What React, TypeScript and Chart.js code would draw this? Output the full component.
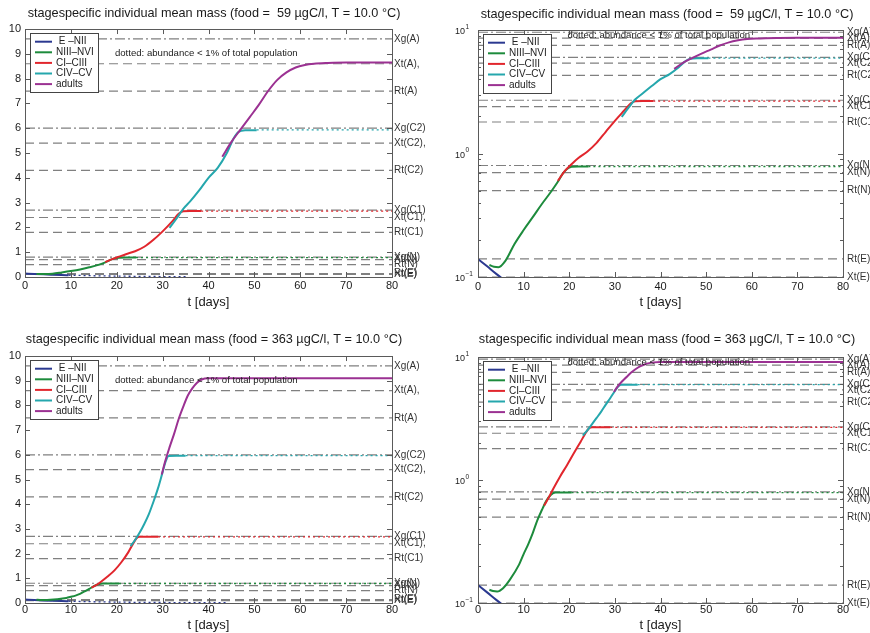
import React, { useEffect, useRef } from 'react';
import { Chart, registerables } from 'chart.js';

Chart.register(...registerables);

const FONT = '"Liberation Sans", Arial, Helvetica, sans-serif';

const TITLE_59 = 'stagespecific individual mean mass (food =  59 \u00b5gC/l, T = 10.0 \u00b0C)';
const TITLE_363 = 'stagespecific individual mean mass (food = 363 \u00b5gC/l, T = 10.0 \u00b0C)';
const X_TITLE = 't [days]';
const NOTE = 'dotted: abundance < 1% of total population';
const NOTE_T = 19.6;
const NOTE_M = 9;

const STAGES = [' E \u2013NII', 'NIII\u2013NVI', 'CI\u2013CIII', 'CIV\u2013CV', 'adults'];
const STAGE_COLORS = ['#2b3990', '#1d8b3c', '#e1262d', '#25a7ad', '#9b3192'];

const X_TICKS = [0, 10, 20, 30, 40, 50, 60, 70, 80];
const Y_TICKS = [0, 1, 2, 3, 4, 5, 6, 7, 8, 9, 10];
const LOG_TICKS = [0.1, 1, 10];
const LOG_TICK_BASE = ['10', '10', '10'];
const LOG_TICK_EXP = ['\u22121', '0', '1'];
const LOG_MINOR = [0.2, 0.3, 0.4, 0.5, 0.6, 0.7, 0.8, 0.9, 2, 3, 4, 5, 6, 7, 8, 9];

// reference masses (right-hand labels)
const REF_LABELS = ['Xg(A)', 'Xt(A),', 'Rt(A)', 'Xg(C2)', 'Xt(C2),', 'Rt(C2)', 'Xg(C1)', 'Xt(C1),', 'Rt(C1)', 'Xg(N)', 'Xt(N)', 'Rt(N)', 'Rt(E)', 'Xt(E)'];
const REF_MASS = [9.6, 8.6, 7.5, 6.0, 5.4, 4.3, 2.7, 2.4, 1.8, 0.8, 0.7, 0.5, 0.14, 0.1];

// ----- food = 59 µgC/l -----
const T59_ENII = [0, 2, 4, 6, 8, 9.5];
const M59_ENII = [0.14, 0.122, 0.106, 0.093, 0.081, 0.073];
const T59_ENII_LOW = [9.5, 15, 20, 25, 30, 35];
const M59_ENII_LOW = [0.073, 0.05, 0.036, 0.026, 0.018, 0.012];

const T59_NIII = [2.5, 3.5, 4.5, 6, 8, 10, 12, 14, 16, 17.5, 18.5, 19.5, 20.5, 22, 24.2];
const M59_NIII = [0.125, 0.121, 0.12, 0.135, 0.185, 0.24, 0.305, 0.39, 0.49, 0.59, 0.68, 0.75, 0.78, 0.785, 0.785];
const T59_NIII_LOW = [24.2, 80];
const M59_NIII_LOW = [0.785, 0.785];

const T59_CI = [17.5, 19, 20.5, 22, 24, 26, 28, 30, 32, 33.5, 34.5, 36, 38.4];
const M59_CI = [0.6, 0.72, 0.82, 0.92, 1.04, 1.22, 1.5, 1.84, 2.22, 2.55, 2.65, 2.66, 2.66];
const T59_CI_LOW = [38.4, 80];
const M59_CI_LOW = [2.66, 2.66];

const T59_CIV = [31.5, 33, 34.5, 36, 38, 40, 42, 44, 45.5, 46.5, 48, 50.5];
const M59_CIV = [1.98, 2.35, 2.75, 3.05, 3.5, 4.0, 4.4, 5.0, 5.6, 5.85, 5.92, 5.92];
const T59_CIV_LOW = [50.5, 80];
const M59_CIV_LOW = [5.93, 5.93];

const T59_AD = [43, 45, 47, 49, 51, 53, 55, 57, 59, 61, 63, 66, 70, 75, 80];
const M59_AD = [4.85, 5.45, 5.95, 6.45, 6.95, 7.5, 7.95, 8.25, 8.45, 8.55, 8.6, 8.63, 8.65, 8.65, 8.65];

// ----- food = 363 µgC/l -----
const T363_ENII = [0, 2, 4, 6, 8, 9.5];
const M363_ENII = [0.14, 0.122, 0.106, 0.093, 0.081, 0.073];
const T363_ENII_LOW = [9.5, 15, 20, 30, 40, 44];
const M363_ENII_LOW = [0.073, 0.05, 0.036, 0.02, 0.012, 0.01];

const T363_NIII = [2.5, 3.3, 4.2, 5.5, 7, 9, 10, 11, 12, 13, 14, 15, 16, 17, 20.5];
const M363_NIII = [0.128, 0.125, 0.124, 0.132, 0.155, 0.205, 0.25, 0.3, 0.37, 0.47, 0.57, 0.68, 0.76, 0.79, 0.79];
const T363_NIII_LOW = [20.5, 80];
const M363_NIII_LOW = [0.79, 0.79];

const T363_CI = [14.5, 15.5, 16.5, 18, 19.5, 21, 22.5, 23.5, 24.3, 25, 29];
const M363_CI = [0.62, 0.72, 0.85, 1.07, 1.32, 1.65, 2.05, 2.38, 2.62, 2.68, 2.68];
const T363_CI_LOW = [29, 80];
const M363_CI_LOW = [2.68, 2.68];

const T363_CIV = [23, 24, 25, 26, 27, 28, 29, 30, 30.7, 31.3, 33, 35];
const M363_CIV = [2.3, 2.55, 2.85, 3.2, 3.6, 4.1, 4.65, 5.3, 5.75, 5.95, 5.96, 5.96];
const T363_CIV_LOW = [35, 80];
const M363_CIV_LOW = [5.97, 5.97];

const T363_AD = [29.8, 30.5, 31.5, 32.5, 33.5, 34.5, 35.5, 36.5, 37.5, 38.5, 40, 45, 80];
const M363_AD = [5.2, 5.7, 6.3, 6.85, 7.45, 7.95, 8.4, 8.7, 8.92, 9.05, 9.1, 9.1, 9.1];

const SERIES_59 = [
  { t: T59_ENII, m: M59_ENII, tl: T59_ENII_LOW, ml: M59_ENII_LOW },
  { t: T59_NIII, m: M59_NIII, tl: T59_NIII_LOW, ml: M59_NIII_LOW },
  { t: T59_CI, m: M59_CI, tl: T59_CI_LOW, ml: M59_CI_LOW },
  { t: T59_CIV, m: M59_CIV, tl: T59_CIV_LOW, ml: M59_CIV_LOW },
  { t: T59_AD, m: M59_AD, tl: [], ml: [] },
];
const SERIES_363 = [
  { t: T363_ENII, m: M363_ENII, tl: T363_ENII_LOW, ml: M363_ENII_LOW },
  { t: T363_NIII, m: M363_NIII, tl: T363_NIII_LOW, ml: M363_NIII_LOW },
  { t: T363_CI, m: M363_CI, tl: T363_CI_LOW, ml: M363_CI_LOW },
  { t: T363_CIV, m: M363_CIV, tl: T363_CIV_LOW, ml: M363_CIV_LOW },
  { t: T363_AD, m: M363_AD, tl: [], ml: [] },
];

const pts = (t: number[], m: number[]) => t.map((v, i) => ({ x: v, y: m[i] }));

const decor = {
  id: 'decor',
  afterDatasetsDraw(chart: any, _args: any, opts: any) {
    const { ctx, chartArea: a } = chart;
    const xs = chart.scales.x;
    const ys = chart.scales.y;
    ctx.save();
    ctx.setLineDash([]);
    const seg = (x1: number, y1: number, x2: number, y2: number) => {
      ctx.beginPath();
      ctx.moveTo(x1, y1);
      ctx.lineTo(x2, y2);
      ctx.stroke();
    };
    // frame
    ctx.strokeStyle = '#5a5a5a';
    ctx.lineWidth = 1;
    ctx.strokeRect(Math.round(a.left) + 0.5, Math.round(a.top) + 0.5, Math.round(a.right - a.left), Math.round(a.bottom - a.top));
    // inward ticks
    X_TICKS.forEach((v) => {
      const px = Math.round(xs.getPixelForValue(v)) + 0.5;
      seg(px, a.bottom, px, a.bottom - 5);
      seg(px, a.top, px, a.top + 5);
    });
    const yt = opts.log ? LOG_TICKS : Y_TICKS;
    yt.forEach((v: number) => {
      const py = Math.round(ys.getPixelForValue(v)) + 0.5;
      seg(a.left, py, a.left + 5, py);
      seg(a.right, py, a.right - 5, py);
    });
    if (opts.log) {
      LOG_MINOR.forEach((v) => {
        const py = Math.round(ys.getPixelForValue(v)) + 0.5;
        seg(a.left, py, a.left + 3, py);
        seg(a.right, py, a.right - 3, py);
      });
      // log tick labels with superscript exponent
      ctx.fillStyle = '#1a1a1a';
      ctx.textAlign = 'left';
      ctx.textBaseline = 'middle';
      LOG_TICKS.forEach((v, i) => {
        const py = ys.getPixelForValue(v);
        const x0 = a.left - 23;
        ctx.font = `9px ${FONT}`;
        ctx.fillText(LOG_TICK_BASE[i], x0, py + 1.5);
        const w = ctx.measureText(LOG_TICK_BASE[i]).width;
        ctx.font = `6.5px ${FONT}`;
        ctx.fillText(LOG_TICK_EXP[i], x0 + w + 0.5, py - 3);
      });
    }
    // reference labels at right
    ctx.fillStyle = '#333';
    ctx.font = `10px ${FONT}`;
    ctx.textAlign = 'left';
    ctx.textBaseline = 'middle';
    REF_LABELS.forEach((lab, i) => {
      ctx.fillText(lab, a.right + (opts.log ? 4 : 2), ys.getPixelForValue(REF_MASS[i]));
    });
    // note
    ctx.font = `9.6px ${FONT}`;
    ctx.fillStyle = '#222';
    ctx.fillText(NOTE, xs.getPixelForValue(NOTE_T), ys.getPixelForValue(NOTE_M));
    // legend
    const bx = Math.round(a.left) + 5;
    const by = Math.round(a.top) + 4;
    const bw = 68;
    const bh = 59;
    ctx.fillStyle = '#fff';
    ctx.fillRect(bx, by, bw, bh);
    ctx.strokeStyle = '#444';
    ctx.lineWidth = 1;
    ctx.strokeRect(bx + 0.5, by + 0.5, bw, bh);
    ctx.font = `10px ${FONT}`;
    STAGES.forEach((name, i) => {
      const y = by + 8.7 + i * 10.6;
      ctx.strokeStyle = STAGE_COLORS[i];
      ctx.lineWidth = 2;
      seg(bx + 5, y, bx + 22, y);
      ctx.fillStyle = '#222';
      ctx.fillText(name, bx + 26, y);
    });
    ctx.restore();
  },
};

type PanelCfg = {
  title: string;
  log: boolean;
  series: typeof SERIES_59;
  padL: number;
  padR: number;
  yW: number;
  y2W: number;
  titleTop: number;
  titleBottom: number;
  xH: number;
  xTickPad: number;
  xTitlePad: number;
};

function buildConfig(p: PanelCfg): any {
  const datasets: any[] = [];
  const order = [4, 3, 2, 1, 0];
  order.forEach((i) => {
    const s = p.series[i];
    datasets.push({
      label: STAGES[i],
      data: pts(s.t, s.m),
      borderColor: STAGE_COLORS[i],
      borderWidth: 2,
      pointRadius: 0,
      fill: false,
      cubicInterpolationMode: 'monotone',
    });
  });
  order.forEach((i) => {
    const s = p.series[i];
    if (!s.tl.length) return;
    datasets.push({
      label: STAGES[i] + ' (< 1%)',
      data: pts(s.tl, s.ml),
      borderColor: STAGE_COLORS[i],
      borderWidth: 1.3,
      borderDash: [2, 3],
      pointRadius: 0,
      fill: false,
      cubicInterpolationMode: 'monotone',
    });
  });
  REF_LABELS.forEach((lab, i) => {
    datasets.push({
      label: lab,
      data: [
        { x: 0, y: REF_MASS[i] },
        { x: 80, y: REF_MASS[i] },
      ],
      borderColor: '#808080',
      borderWidth: 1.2,
      borderDash: lab.startsWith('Xg') ? [10, 3, 2, 3] : [9, 5],
      pointRadius: 0,
      fill: false,
    });
  });

  return {
    type: 'line',
    data: { datasets },
    plugins: [decor],
    options: {
      responsive: false,
      animation: false,
      devicePixelRatio: 1,
      events: [],
      layout: { padding: { left: p.padL, right: p.padR, top: 0, bottom: 0 } },
      plugins: {
        legend: { display: false },
        tooltip: { enabled: false },
        title: {
          display: true,
          text: p.title,
          color: '#1a1a1a',
          font: { family: FONT, size: 12.7, weight: 'normal' },
          padding: { top: p.titleTop, bottom: p.titleBottom },
        },
        decor: { log: p.log },
      },
      scales: {
        x: {
          type: 'linear',
          min: 0,
          max: 80,
          afterBuildTicks: (s: any) => {
            s.ticks = X_TICKS.map((v) => ({ value: v }));
          },
          ticks: {
            color: '#1a1a1a',
            font: { family: FONT, size: 11 },
            padding: p.xTickPad,
            maxRotation: 0,
            autoSkip: false,
            callback: (v: any) => String(v),
          },
          grid: { display: false, drawTicks: false },
          border: { display: false },
          title: {
            display: true,
            text: X_TITLE,
            color: '#1a1a1a',
            font: { family: FONT, size: 13 },
            padding: { top: 0, bottom: p.xTitlePad },
          },
          afterFit: (s: any) => {
            s.height = p.xH;
          },
        },
        y: {
          type: p.log ? 'logarithmic' : 'linear',
          position: 'left',
          min: p.log ? 0.1 : 0,
          max: 10,
          afterBuildTicks: (s: any) => {
            s.ticks = (p.log ? LOG_TICKS : Y_TICKS).map((v) => ({ value: v }));
          },
          ticks: {
            display: !p.log,
            color: '#1a1a1a',
            font: { family: FONT, size: 11 },
            padding: 4,
            autoSkip: false,
            callback: (v: any) => String(v),
          },
          grid: { display: false, drawTicks: false },
          border: { display: false },
          afterFit: (s: any) => {
            s.width = p.yW;
          },
        },
        y2: {
          type: 'linear',
          position: 'right',
          min: 0,
          max: 1,
          ticks: { display: false },
          grid: { display: false, drawTicks: false },
          border: { display: false },
          afterFit: (s: any) => {
            s.width = p.y2W;
          },
        },
      },
    },
  };
}

function Panel({ left, top, width, height, cfg }: { left: number; top: number; width: number; height: number; cfg: PanelCfg }) {
  const ref = useRef<HTMLCanvasElement>(null);
  useEffect(() => {
    const chart = new Chart(ref.current as HTMLCanvasElement, buildConfig(cfg));
    return () => chart.destroy();
  }, []);
  return (
    <div style={{ position: 'absolute', left, top, width, height, overflow: 'hidden' }}>
      <canvas ref={ref} width={width} height={height} style={{ display: 'block', width, height }} />
    </div>
  );
}

const LIN_TOP: PanelCfg = { title: TITLE_59, log: false, series: SERIES_59, padL: 0, padR: 7, yW: 25, y2W: 36, titleTop: 6, titleBottom: 7.8, xH: 38, xTickPad: 2.5, xTitlePad: 5 };
const LOG_TOP: PanelCfg = { title: TITLE_59, log: true, series: SERIES_59, padL: 29, padR: 0, yW: 14, y2W: 27, titleTop: 6.4, titleBottom: 8.4, xH: 38, xTickPad: 3, xTitlePad: 5 };
const LIN_BOT: PanelCfg = { title: TITLE_363, log: false, series: SERIES_363, padL: 0, padR: 7, yW: 25, y2W: 36, titleTop: 16.4, titleBottom: 9.4, xH: 30, xTickPad: 0.5, xTitlePad: 0 };
const LOG_BOT: PanelCfg = { title: TITLE_363, log: true, series: SERIES_363, padL: 29, padR: 0, yW: 14, y2W: 27, titleTop: 16.4, titleBottom: 10.4, xH: 30, xTickPad: 0.5, xTitlePad: 0 };

export default function App() {
  return (
    <div style={{ position: 'absolute', left: 0, top: 0, width: 870, height: 633, background: '#fff', overflow: 'hidden' }}>
      <Panel left={0} top={0} width={435} height={315} cfg={LIN_TOP} />
      <Panel left={435} top={0} width={435} height={315} cfg={LOG_TOP} />
      <Panel left={0} top={315} width={435} height={318} cfg={LIN_BOT} />
      <Panel left={435} top={315} width={435} height={318} cfg={LOG_BOT} />
    </div>
  );
}
